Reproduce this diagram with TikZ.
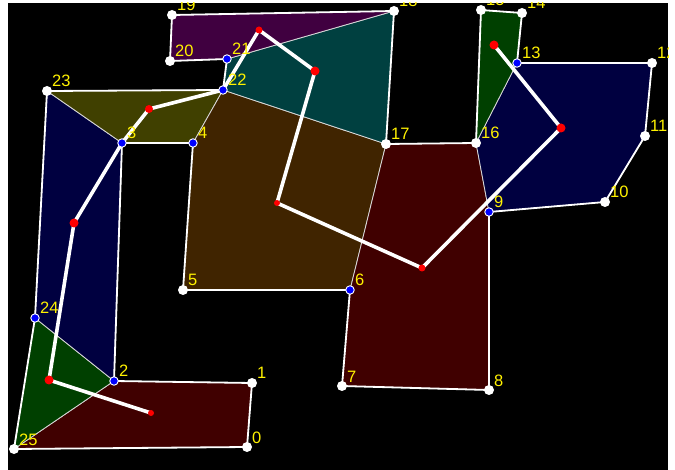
\documentclass[tikz,border=0pt]{standalone}
\usepackage{fontspec}
\setmainfont{Liberation Sans}
\definecolor{mar}{RGB}{64,0,0}
\definecolor{grn}{RGB}{0,64,0}
\definecolor{nvy}{RGB}{0,0,64}
\definecolor{olv}{RGB}{64,64,0}
\definecolor{brn}{RGB}{64,36,0}
\definecolor{tel}{RGB}{0,64,64}
\definecolor{prp}{RGB}{64,0,64}
\tikzset{
  face/.style={draw=white!85!black,line width=.8pt},
  rim/.style={draw=white,line width=1.8pt,line join=round},
  dual/.style={draw=white,line width=3.6pt},
  vtx/.style={circle,fill=white,inner sep=0pt,minimum size=10pt},
  dvtx/.style={circle,fill=blue,draw=white,line width=.9pt,inner sep=0pt,minimum size=8.5pt},
  ctr/.style={circle,fill=red,inner sep=0pt,minimum size=#1},
  ctr/.default=9pt,
  lbl/.style={anchor=base west,text=yellow,inner sep=0pt,xshift=5pt,yshift=4pt}
}
\begin{document}
\begin{tikzpicture}[x=1pt,y=-1pt,font=\fontsize{16.5}{16.5}\selectfont]
\useasboundingbox (0,0) rectangle (675,470);
\fill[white] (0,0) rectangle (675,470);
\fill[black] (8,3) rectangle (668,470);
\clip (8,3) rectangle (668,470);
% polygon corners
\foreach \n/\x/\y in {0/247/447,1/252/383,2/114/381,3/122/143,4/193/143,5/183/290,6/350/290,
  7/342/386,8/489/390,9/489/212,10/605/202,11/645/136,12/652/63,13/517/63,14/522/13,
  15/481/10,16/476/143,17/386/144,18/394/11,19/172/15,20/170/61,21/227/59,22/223/90,
  23/47/91,24/35/318,25/14/449}{\coordinate (p\n) at (\x,\y);}
% pieces
\filldraw[face,fill=mar] (p0)--(p1)--(p2)--(p25)--cycle;
\filldraw[face,fill=grn] (p24)--(p2)--(p25)--cycle;
\filldraw[face,fill=nvy] (p23)--(p3)--(p2)--(p24)--cycle;
\filldraw[face,fill=olv] (p23)--(p22)--(p4)--(p3)--cycle;
\filldraw[face,fill=brn] (p22)--(p17)--(p6)--(p5)--(p4)--cycle;
\filldraw[face,fill=tel] (p21)--(p18)--(p17)--(p22)--cycle;
\filldraw[face,fill=prp] (p19)--(p18)--(p21)--(p20)--cycle;
\filldraw[face,fill=mar] (p17)--(p16)--(p9)--(p8)--(p7)--(p6)--cycle;
\filldraw[face,fill=nvy] (p16)--(p13)--(p12)--(p11)--(p10)--(p9)--cycle;
\filldraw[face,fill=grn] (p15)--(p14)--(p13)--(p16)--cycle;
\draw[rim] (p0) \foreach \i in {1,...,25}{--(p\i)} --cycle;
% centres of the pieces
\foreach \n/\x/\y in {0/151/413,1/49/380,2/74/223,3/149/109,4/259/30,5/315/71,
  6/277/203,7/422/268,8/561/128,9/494/45}{\coordinate (q\n) at (\x,\y);}
\draw[dual] (q0)--(q1)--(q2)--(p3)--(q3)--(p22)--(q4)--(q5)--(q6)--(q7)--(q8)--(q9);
\foreach \n/\s in {0/6pt,1/9pt,2/9pt,3/8pt,4/7pt,5/9pt,6/6pt,7/7pt,8/9pt,9/9pt}{\node[ctr=\s] (c\n) at (q\n) {};}
\foreach \n in {0,1,5,7,8,10,11,12,14,15,16,17,18,19,20,23,25}{\node[vtx] (v\n) at (p\n) {};}
\foreach \n in {2,3,4,6,9,13,21,22,24}{\node[dvtx] (v\n) at (p\n) {};}
\foreach \n in {0,...,25}{\node[lbl] (l\n) at (p\n) {\n};}
\end{tikzpicture}
\end{document}
